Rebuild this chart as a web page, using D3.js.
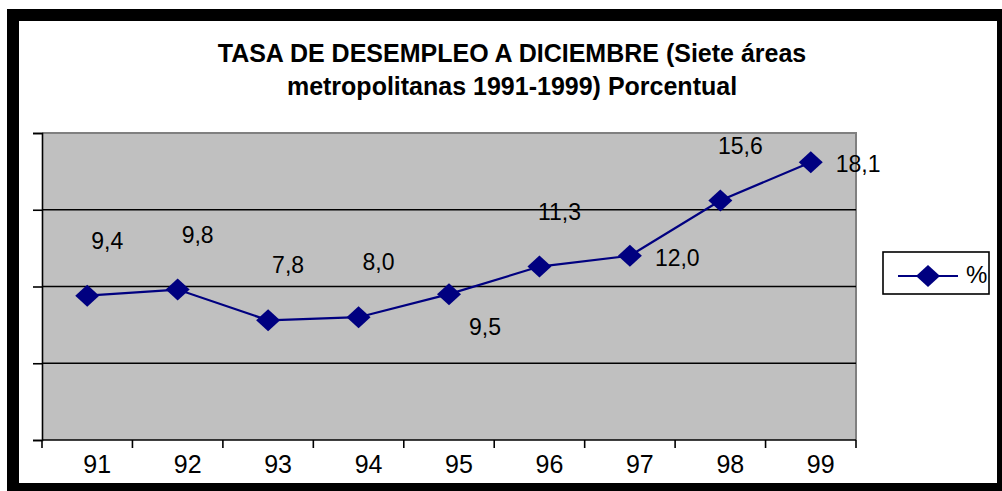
<!DOCTYPE html>
<html>
<head>
<meta charset="utf-8">
<script src="https://cdn.jsdelivr.net/npm/d3@7/dist/d3.min.js"></script>
<style>
  html, body { margin: 0; padding: 0; background: #fff; }
  svg { display: block; }
  text { font-family: Arial, "Liberation Sans", sans-serif; }
</style>
</head>
<body>
<svg id="chart" width="1002" height="491"></svg>
<script>
const titleLines = ["TASA DE DESEMPLEO A DICIEMBRE (Siete áreas", "metropolitanas 1991-1999) Porcentual"];
const categories = ["91", "92", "93", "94", "95", "96", "97", "98", "99"];
const values = [9.4, 9.8, 7.8, 8.0, 9.5, 11.3, 12.0, 15.6, 18.1];
const valueLabels = ["9,4", "9,8", "7,8", "8,0", "9,5", "11,3", "12,0", "15,6", "18,1"];
const labelPlacement = ["above", "above", "above", "above", "below", "above", "right", "above", "right"];
const yTicks = [0, 5, 10, 15, 20];
const seriesName = "%";

const svg = d3.select("#chart");
const W = 1002, H = 491;
const navy = "#000080";

// outer frame
svg.append("rect").attr("x", 0).attr("y", 0).attr("width", W).attr("height", H).attr("fill", "#fff");
svg.append("rect").attr("x", 7).attr("y", 9).attr("width", W - 7).attr("height", H - 9).attr("fill", "#000");
svg.append("rect").attr("x", 19).attr("y", 21).attr("width", 978).attr("height", 462).attr("fill", "#fff");

// title
svg.append("g").selectAll("text").data(titleLines).join("text")
  .attr("x", 512).attr("y", (d, i) => 62 + i * 33)
  .attr("text-anchor", "middle")
  .attr("font-size", 25).attr("font-weight", "bold")
  .attr("fill", "#000")
  .text(d => d);

const plot = { left: 42, top: 133, right: 856, bottom: 440 };

const x = d3.scaleBand().domain(categories).range([plot.left, plot.right]).padding(0);
const y = d3.scaleLinear().domain([0, 20]).range([plot.bottom, plot.top]);

// plot background
svg.append("rect")
  .attr("x", plot.left).attr("y", plot.top)
  .attr("width", plot.right - plot.left).attr("height", plot.bottom - plot.top)
  .attr("fill", "#c0c0c0");
// gray border top/right
svg.append("path")
  .attr("d", `M${plot.left},${plot.top}H${plot.right}V${plot.bottom}`)
  .attr("fill", "none").attr("stroke", "#808080").attr("stroke-width", 2);

// gridlines
svg.append("g").selectAll("line").data(yTicks.filter(t => t > 0 && t < 20)).join("line")
  .attr("x1", plot.left).attr("x2", plot.right)
  .attr("y1", d => y(d)).attr("y2", d => y(d))
  .attr("stroke", "#000").attr("stroke-width", 1.6);

// y axis (ticks only, no labels)
const yAxis = svg.append("g").attr("transform", `translate(${plot.left},0)`)
  .call(d3.axisLeft(y).tickValues(yTicks).tickSize(9).tickFormat(""));
yAxis.selectAll("path").attr("stroke", "#000").attr("stroke-width", 1.6);
yAxis.selectAll("line").attr("stroke", "#000").attr("stroke-width", 1.6);

// x axis: ticks between categories
const boundaries = categories.map(c => x(c)).concat([x(categories[categories.length - 1]) + x.bandwidth()]);
svg.append("line").attr("x1", plot.left).attr("x2", plot.right)
  .attr("y1", plot.bottom).attr("y2", plot.bottom)
  .attr("stroke", "#000").attr("stroke-width", 1.6);
svg.append("g").selectAll("line").data(boundaries).join("line")
  .attr("x1", d => d).attr("x2", d => d)
  .attr("y1", plot.bottom).attr("y2", plot.bottom + 8)
  .attr("stroke", "#000").attr("stroke-width", 1.6);
svg.append("g").selectAll("text").data(categories).join("text")
  .attr("x", d => x(d) + x.bandwidth() / 2 + 10)
  .attr("y", 473)
  .attr("text-anchor", "middle")
  .attr("font-size", 25)
  .attr("fill", "#000")
  .text(d => d);

// line
const cx = (d, i) => x(categories[i]) + x.bandwidth() / 2;
const line = d3.line().x((d, i) => cx(d, i)).y(d => y(d));
svg.append("path").datum(values)
  .attr("d", line)
  .attr("fill", "none").attr("stroke", navy).attr("stroke-width", 2.2);

// diamonds
const diamond = "M0,-11L12,0L0,11L-12,0Z";
svg.append("g").selectAll("path").data(values).join("path")
  .attr("transform", (d, i) => `translate(${cx(d, i)},${y(d)})`)
  .attr("d", diamond)
  .attr("fill", navy);

// data labels
const off = {
  above: { dx: 20, dy: -47, anchor: "middle" },
  below: { dx: 36, dy: 41, anchor: "middle" },
  right: { dx: 25, dy: 10, anchor: "start" }
};
svg.append("g").selectAll("text").data(values).join("text")
  .attr("x", (d, i) => cx(d, i) + off[labelPlacement[i]].dx)
  .attr("y", (d, i) => y(d) + off[labelPlacement[i]].dy)
  .attr("text-anchor", (d, i) => off[labelPlacement[i]].anchor)
  .attr("font-size", 23)
  .attr("fill", "#000")
  .text((d, i) => valueLabels[i]);

// legend
const lg = svg.append("g");
lg.append("rect").attr("x", 883).attr("y", 252).attr("width", 106).attr("height", 42)
  .attr("fill", "#fff").attr("stroke", "#000").attr("stroke-width", 1.6);
lg.append("line").attr("x1", 898).attr("x2", 958).attr("y1", 276).attr("y2", 276)
  .attr("stroke", navy).attr("stroke-width", 2.2);
lg.append("path").attr("transform", "translate(928,276)").attr("d", diamond).attr("fill", navy);
lg.append("text").attr("x", 966).attr("y", 283).attr("font-size", 24).attr("fill", "#000").text(seriesName);
</script>
</body>
</html>
